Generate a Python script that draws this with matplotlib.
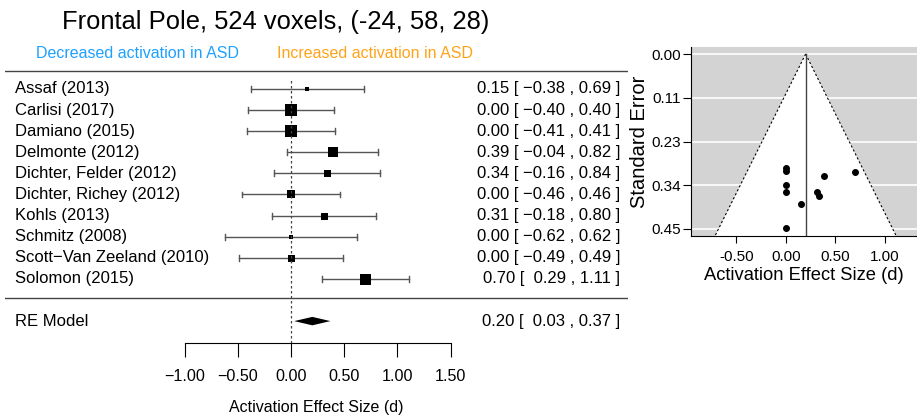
# Forest plot + funnel plot - Frontal Pole
import numpy as np
import matplotlib
matplotlib.use('Agg')
import matplotlib.pyplot as plt
from matplotlib.patches import Polygon

plt.rcParams['font.family'] = ['Liberation Sans', 'DejaVu Sans']

# Dados dos estudos
studies = ['Assaf (2013)', 'Carlisi (2017)', 'Damiano (2015)', 'Delmonte (2012)',
           'Dichter, Felder (2012)', 'Dichter, Richey (2012)', 'Kohls (2013)',
           'Schmitz (2008)', 'Scott\u2212Van Zeeland (2010)', 'Solomon (2015)']
effect = [0.15, 0.00, 0.00, 0.39, 0.34, 0.00, 0.31, 0.00, 0.00, 0.70]
ci_low = [-0.38, -0.40, -0.41, -0.04, -0.16, -0.46, -0.18, -0.62, -0.49, 0.29]
ci_high = [0.69, 0.40, 0.41, 0.82, 0.84, 0.46, 0.80, 0.62, 0.49, 1.11]
weight_px = [5, 12, 12, 10, 7, 8.5, 7, 4, 7, 11]
funnel_se = [0.386, 0.293, 0.300, 0.314, 0.365, 0.337, 0.355, 0.447, 0.355, 0.303]

# Modelo RE
re_est, re_low, re_high = 0.20, 0.03, 0.37

forest_ticks = [-1.0, -0.5, 0.0, 0.5, 1.0, 1.5]
funnel_xticks = [-0.5, 0.0, 0.5, 1.0]
funnel_yticks = [0.0, 0.1125, 0.225, 0.3375, 0.45]
funnel_ylabels = ['0.00', '0.11', '0.23', '0.34', '0.45']

W, H = 917, 417
fig = plt.figure(figsize=(W / 100, H / 100), dpi=100)


def fmt(v):
    s = '%.2f' % abs(v)
    return ('\u2212' + s) if v < 0 else (' ' + s)


# ---------------- Forest plot ----------------
ax = fig.add_axes([5 / W, 1 - 343 / H, 623 / W, 283 / H])
ax.set_xlim(-2.688, 3.167)
ax.set_ylim(-2.038, 11.374)
rows = np.arange(len(studies), 0, -1)
fs = 12

for i in range(len(studies)):
    y = rows[i]
    ax.plot([ci_low[i], ci_high[i]], [y, y], color='#555555', lw=1)
    ax.plot([ci_low[i], ci_low[i]], [y - 0.14, y + 0.14], color='#555555', lw=1)
    ax.plot([ci_high[i], ci_high[i]], [y - 0.14, y + 0.14], color='#555555', lw=1)
    ax.plot(effect[i], y, marker='s', color='black', ms=weight_px[i] * 0.72, mew=0)
    ax.text(0.016, y, studies[i], transform=ax.get_yaxis_transform(),
            ha='left', va='center', fontsize=fs)
    txt = '%.2f [ %s , %.2f ]' % (effect[i], fmt(ci_low[i]), ci_high[i])
    ax.text(0.987, y, txt, transform=ax.get_yaxis_transform(),
            ha='right', va='center', fontsize=fs)

# diamante do modelo RE
ax.add_patch(Polygon([(re_low, -1), (re_est, -0.8), (re_high, -1), (re_est, -1.2)],
                     closed=True, color='black', lw=0))
ax.text(0.016, -1, 'RE Model', transform=ax.get_yaxis_transform(),
        ha='left', va='center', fontsize=fs)
ax.text(0.987, -1, '%.2f [ %s , %.2f ]' % (re_est, fmt(re_low), re_high),
        transform=ax.get_yaxis_transform(), ha='right', va='center', fontsize=fs)

ax.axhline(10.85, color='#444444', lw=1)
ax.axhline(0.1, color='#444444', lw=1)
ax.vlines(0, -2.038, 10.45, colors='#444444', linestyles=(0, (2, 2)), lw=0.9)

for s in ['top', 'right', 'left']:
    ax.spines[s].set_visible(False)
ax.spines['bottom'].set_bounds(forest_ticks[0], forest_ticks[-1])
ax.set_yticks([])
ax.set_xticks(forest_ticks)
ax.set_xticklabels([fmt(t).strip() for t in forest_ticks], fontsize=11.6)
ax.tick_params(axis='x', length=10, pad=9)
ax.set_xlabel('Activation Effect Size (d)', fontsize=11.5, labelpad=11)

fig.text(276 / W, 1 - 22 / H, 'Frontal Pole, 524 voxels, (-24, 58, 28)',
         ha='center', va='center', fontsize=18.4)
fig.text(137 / W, 1 - 54 / H, 'Decreased activation in ASD', color='#1EA0FF',
         ha='center', va='center', fontsize=11.5)
fig.text(375 / W, 1 - 54 / H, 'Increased activation in ASD', color='#FFA31A',
         ha='center', va='center', fontsize=11.5)

# ---------------- Funnel plot ----------------
fx = fig.add_axes([691 / W, 1 - 236 / H, (W - 691) / W, 189 / H])
fx.set_xlim(-0.96, 1.327)
fx.set_ylim(0.468, -0.018)
fx.set_facecolor('#D3D3D3')
for t in funnel_yticks:
    fx.axhline(t, color='white', lw=1.2, zorder=0.5)
se_max = 0.468
tri = [(re_est, 0), (re_est - 1.96 * se_max, se_max), (re_est + 1.96 * se_max, se_max)]
fx.add_patch(Polygon(tri, closed=True, facecolor='white', edgecolor='none', zorder=1))
fx.plot([re_est, re_est - 1.96 * se_max], [0, se_max], color='black', ls=(0, (2, 2)), lw=0.8, zorder=2)
fx.plot([re_est, re_est + 1.96 * se_max], [0, se_max], color='black', ls=(0, (2, 2)), lw=0.8, zorder=2)
fx.plot([re_est, re_est], [0, se_max], color='#444444', lw=1, zorder=2)
fx.plot(effect, funnel_se, 'o', color='black', ms=4, zorder=3)

fx.spines['top'].set_visible(False)
fx.spines['right'].set_visible(False)
fx.set_xticks(funnel_xticks)
fx.set_xticklabels(['%.2f' % t for t in funnel_xticks], fontsize=11)
fx.set_yticks(funnel_yticks)
fx.set_yticklabels(funnel_ylabels, fontsize=11)
fx.tick_params(axis='x', length=5, pad=5)
fx.tick_params(axis='y', length=6, pad=1)
fx.set_xlabel('Activation Effect Size (d)', fontsize=13.2, labelpad=2)
fx.set_ylabel('Standard Error', fontsize=14.5, labelpad=2)

plt.savefig('out.png', dpi=100)
